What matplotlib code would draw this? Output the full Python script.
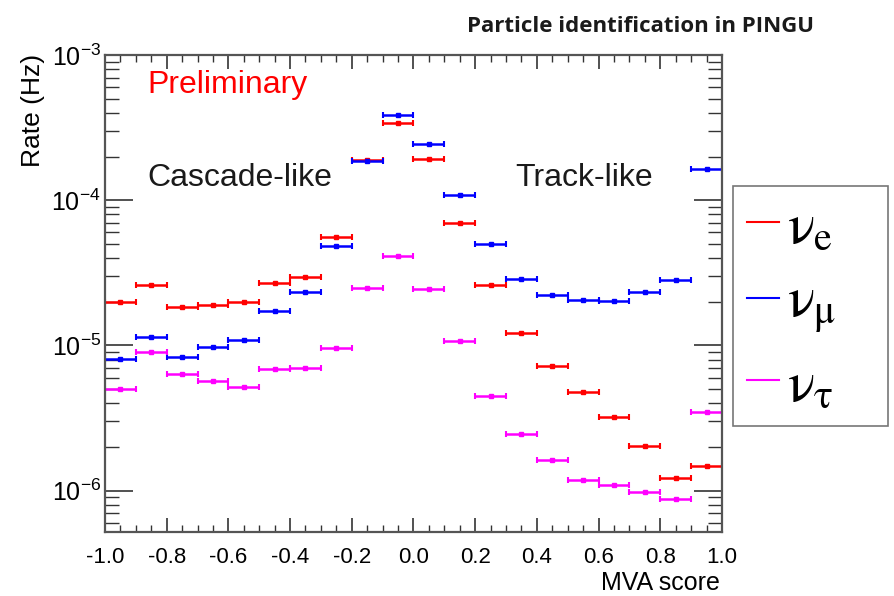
import numpy as np
import matplotlib
matplotlib.use("Agg")
import matplotlib.pyplot as plt
from matplotlib.ticker import MultipleLocator, LogLocator, NullFormatter

plt.rcParams['font.family'] = ['Liberation Sans', 'DejaVu Sans']
plt.rcParams['mathtext.fontset'] = 'custom'
plt.rcParams['mathtext.rm'] = 'Liberation Sans'
plt.rcParams['mathtext.it'] = 'Liberation Sans:italic'

# MVA score bin centres (bin width 0.1)
mva_centres = [-0.95, -0.85, -0.75, -0.65, -0.55, -0.45, -0.35, -0.25, -0.15, -0.05,
               0.05, 0.15, 0.25, 0.35, 0.45, 0.55, 0.65, 0.75, 0.85, 0.95]
bin_half_width = 0.05

rate_nue = [2.0e-5, 2.6e-5, 1.85e-5, 1.89e-5, 1.98e-5, 2.7e-5, 2.96e-5, 5.6e-5, 1.9e-4, 3.4e-4,
            1.91e-4, 6.98e-5, 2.63e-5, 1.21e-5, 7.2e-6, 4.8e-6, 3.2e-6, 2.02e-6, 1.22e-6, 1.49e-6]
rate_numu = [8.05e-6, 1.146e-5, 8.3e-6, 9.8e-6, 1.09e-5, 1.74e-5, 2.33e-5, 4.82e-5, 1.86e-4, 3.85e-4,
             2.45e-4, 1.08e-4, 5.03e-5, 2.87e-5, 2.24e-5, 2.07e-5, 2.03e-5, 2.32e-5, 2.84e-5, 1.63e-4]
rate_nutau = [5.02e-6, 9.0e-6, 6.38e-6, 5.74e-6, 5.17e-6, 6.84e-6, 6.95e-6, 9.58e-6, 2.47e-5, 4.14e-5,
              2.44e-5, 1.07e-5, 4.46e-6, 2.44e-6, 1.62e-6, 1.19e-6, 1.09e-6, 9.8e-7, 8.77e-7, 3.46e-6]

series = [
    (rate_nue, '#ff0000', r'$\mathrm{\nu}_{\mathrm{e}}$'),
    (rate_numu, '#0000ff', r'$\mathrm{\nu}_{\mathrm{\mu}}$'),
    (rate_nutau, '#ff00ff', r'$\mathrm{\nu}_{\mathrm{\tau}}$'),
]

fig = plt.figure(figsize=(8.94, 5.96), dpi=100)
ax = fig.add_axes([0.1174, 0.1074, 0.6902, 0.8003])

handles = []
for vals, col, lab in series:
    ax.errorbar(mva_centres, vals, xerr=bin_half_width, fmt='s', ms=2.5,
                color=col, ecolor=col, elinewidth=1.8, capsize=2.5, capthick=1.5)
    h, = ax.plot([], [], color=col, lw=1.5, label=lab)
    handles.append(h)

ax.set_yscale('log')
ax.set_xlim(-1.0, 1.0)
ax.set_ylim(5.2e-7, 1e-3)

ax.xaxis.set_major_locator(MultipleLocator(0.2))
ax.xaxis.set_minor_locator(MultipleLocator(0.05))
ax.xaxis.set_major_formatter(plt.FuncFormatter(lambda v, p: f"{v:.1f}"))
ax.yaxis.set_major_locator(LogLocator(base=10, numticks=10))
ax.yaxis.set_minor_locator(LogLocator(base=10, subs=np.arange(2, 10), numticks=20))
ax.yaxis.set_minor_formatter(NullFormatter())

ax.tick_params(which='both', direction='in', top=True, right=True, colors='#333333',
               labelcolor='black')
ax.tick_params(axis='x', which='major', length=10, width=1.2, pad=11, labelsize=16)
ax.tick_params(axis='x', which='minor', length=5, width=1.0)
ax.tick_params(axis='y', which='major', length=20, width=1.2, pad=3, labelsize=18)
ax.tick_params(axis='y', which='minor', length=10, width=1.0)
for sp in ax.spines.values():
    sp.set_linewidth(1.6)
    sp.set_color('#555555')

ax.set_ylabel('Rate (Hz)', fontsize=19, loc='top')
ax.yaxis.set_label_coords(-0.097, 1.003)
ax.set_xlabel('MVA score', fontsize=18, loc='right')
ax.xaxis.set_label_coords(0.997, -0.082)

ax.text(-0.861, 6.19e-4, 'Preliminary', color='#ff0000', fontsize=23, va='center', ha='left')
ax.text(-0.861, 1.415e-4, 'Cascade-like', color='#1a1a1a', fontsize=23, va='center', ha='left')
ax.text(0.329, 1.415e-4, 'Track-like', color='#1a1a1a', fontsize=23, va='center', ha='left')

fig.text(0.716, 0.955, 'Particle identification in PINGU', fontsize=16, fontweight='bold',
         family=['Open Sans', 'DejaVu Sans'], ha='center', va='center', color='#1a1a1a')

leg = fig.legend(handles=handles, loc='upper left',
                 bbox_to_anchor=(0.8199, 0.2903, 0.1734, 0.3976), mode='expand',
                 fontsize=41, frameon=True, fancybox=False, edgecolor='#555555',
                 handlelength=0.55, handletextpad=0.15, labelspacing=0.38, borderpad=0.25,
                 borderaxespad=0)
leg.get_frame().set_linewidth(1.2)
for t in leg.get_texts():
    t.set_math_fontfamily('stix')

fig.savefig('out.png', dpi=100)
